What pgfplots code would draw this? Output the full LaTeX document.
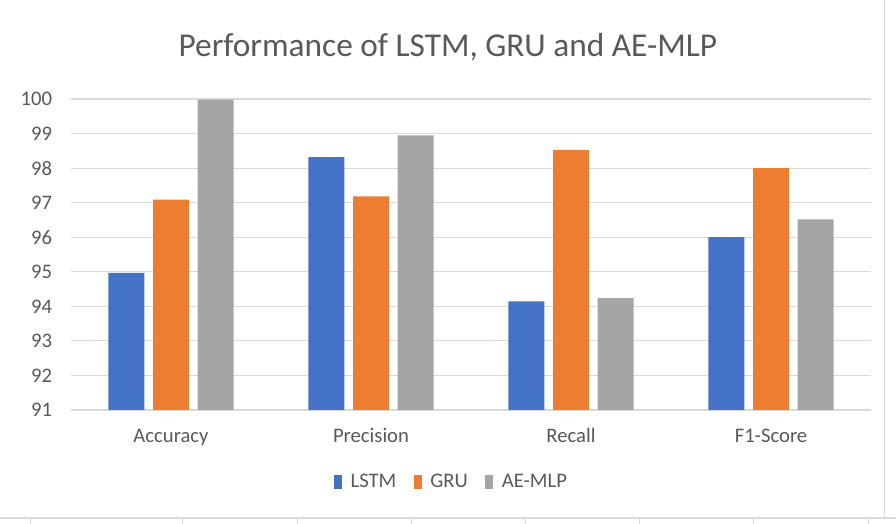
\documentclass[border=0pt]{standalone}
\usepackage{fontspec}
\setmainfont{Carlito}
\usepackage{pgfplots}
\pgfplotsset{compat=1.18}
\definecolor{cLSTM}{HTML}{4472C4}
\definecolor{cGRU}{HTML}{ED7D31}
\definecolor{cAE}{HTML}{A5A5A5}
\definecolor{gridc}{HTML}{D9D9D9}
\definecolor{txt}{HTML}{595959}
\begin{document}
\begin{tikzpicture}
\useasboundingbox[fill=white] (0,0) rectangle (672pt,393pt);
\begin{axis}[
  at={(53.25pt,85.5pt)}, anchor=south west,
  scale only axis, width=600pt, height=233.25pt,
  ybar=6.4pt, bar width=27pt,
  xmin=-0.5, xmax=3.5, ymin=91, ymax=100,
  ytick={91,...,100},
  xtick=data, xticklabels={Accuracy,Precision,Recall,F1-Score},
  major tick length=0pt,
  axis line style={draw=none},
  ymajorgrids, grid style={gridc, line width=0.9pt},
  /pgf/number format/assume math mode=true,
  tick label style={font=\fontsize{15.5}{18}\selectfont, text=txt},
  xticklabel style={anchor=base, yshift=-24.5pt},
  yticklabel style={anchor=east, inner sep=0pt, xshift=-14pt},
  title={Performance of LSTM, GRU and AE-MLP},
  title style={at={(0.471,1.140)}, anchor=center, font=\fontsize{25}{30}\selectfont, text=txt},
  legend style={at={(0.476,-0.2315)}, anchor=center, draw=none, fill=none,
    legend columns=3, font=\fontsize{15.5}{18}\selectfont, text=txt,
    /tikz/every even column/.append style={column sep=11pt}},
  legend image code/.code={\fill[#1] (0pt,-5.25pt) rectangle (6pt,5.25pt); \path (0pt,0pt) -- (10.5pt,0pt);},
  every axis plot/.append style={draw=none},
]
\addplot[fill=cLSTM] coordinates {(0,94.97) (1,98.32) (2,94.14) (3,96.0)};
\addplot[fill=cGRU] coordinates {(0,97.09) (1,97.18) (2,98.53) (3,98.0)};
\addplot[fill=cAE] coordinates {(0,99.98) (1,98.95) (2,94.24) (3,96.52)};
\legend{LSTM,GRU,AE-MLP}
\end{axis}
\draw[gridc, line width=0.9pt] (0,4.5pt) -- (672pt,4.5pt);
\foreach \x in {22.5,136.5,222.75,308.25,393.75,479.25,564.75,651}
  \draw[gridc, line width=0.75pt] (\x pt,0) -- (\x pt,4.5pt);
\draw[gridc, line width=0.75pt] (663pt,4.5pt) -- (663pt,393pt);
\end{tikzpicture}
\end{document}
